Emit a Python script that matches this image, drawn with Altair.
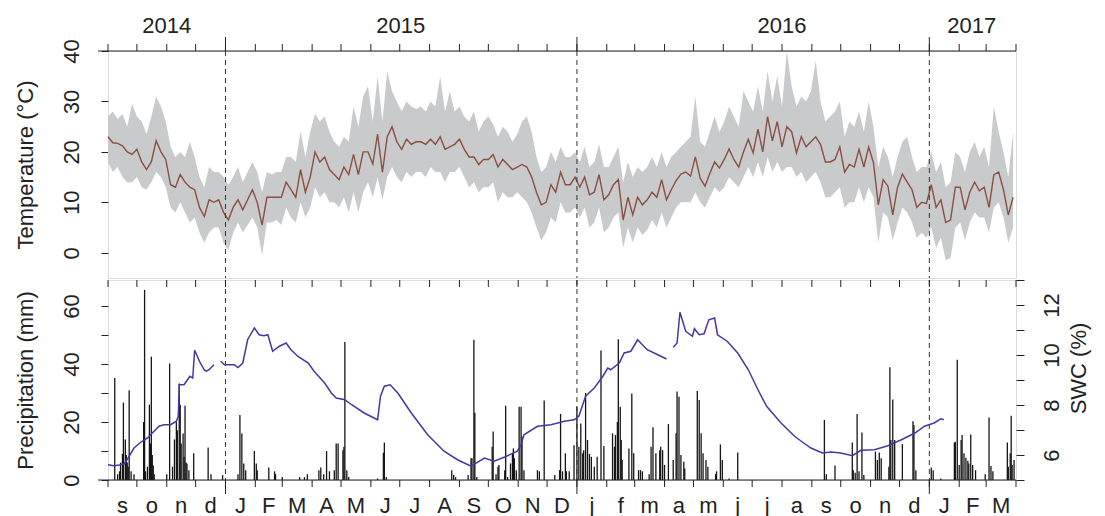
import altair as alt
import pandas as pd

START = "2014-09-01"
END = "2017-04-01"
STEP = 5  # temperature samples every 5 days from START

temp_mean = [
    23, 21.8, 21.7, 21.2, 20.0, 19.5, 20.5, 18, 16.5, 18,
    22.2, 20, 18.5, 13.5, 13, 15.5, 14, 13, 12.5, 9,
    7.2, 10.5, 10, 10.5, 8, 6.5, 9, 10.5, 8.5, 10.5,
    12.5, 10, 5.5, 11, 11, 11, 11, 14, 12.5, 11,
    16.5, 12, 15, 20, 18, 19, 16.5, 15.5, 14.5, 17,
    15.5, 19.5, 15.5, 20, 20, 17.6, 23.5, 16, 23, 25,
    22, 20.5, 22.5, 21.5, 22, 22, 21.5, 22.5, 21.5, 23,
    20.5, 21, 21.5, 22.5, 20.5, 19, 19, 17.5, 18.5, 18.5,
    19.5, 17, 18.5, 17.5, 16.5, 17, 17.5, 17, 15, 12,
    9.5, 10, 13.5, 12, 16, 13.5, 13.5, 15, 13, 15,
    11.5, 12, 15.5, 10.5, 11.5, 13.5, 14.5, 6.5, 11, 7.5,
    11, 9.5, 10.5, 12, 11, 14.5, 10.5, 12.5, 14.3, 15.6,
    16, 15.2, 19, 14.8, 13.2, 15.7, 18, 16.8, 18.5, 20.6,
    18.5, 17, 20, 22.5, 19.8, 24.5, 20, 27, 22.2, 26,
    21, 25, 24, 19.8, 23, 21, 22, 23, 21.5, 18,
    18, 18.5, 21, 16, 17.5, 17, 20.5, 17, 21, 17.8,
    9.5, 14.5, 13.2, 7.5, 13, 15.6, 14, 12.5, 9, 10,
    9.8, 13.5, 9, 10.5, 6, 6.5, 13, 13, 8.5, 12,
    14, 12.3, 13, 9, 15.5, 16, 12.5, 7.5, 11,
]
temp_max = [
    27, 28, 26.5, 27.5, 25, 29.5, 27, 26, 23.5, 27,
    31, 29, 26, 21, 19, 20, 19, 22, 19, 15,
    13, 17, 16, 16, 15, 13.5, 15, 17, 14, 16,
    18, 16, 12, 16, 15.5, 16, 16, 19, 19, 18,
    24, 19, 24, 27.5, 26, 27, 24, 22, 21, 23,
    22, 29, 25, 31, 33, 26, 35, 26, 36, 32,
    30, 28, 30, 29, 28.5, 29, 28, 30, 29, 35,
    28, 32, 28, 29, 27, 26, 28, 24, 26, 27,
    25.5, 23, 25, 24, 22, 23.5, 26, 27, 24, 19,
    16, 17, 20, 18, 21, 19, 19, 20, 18, 21,
    17, 18, 21.5, 17, 17, 19, 21, 14, 18, 15,
    17, 16, 17, 19, 17, 20, 17, 19, 20, 21,
    22, 23, 31, 22, 21, 24, 27, 24, 26, 29,
    27, 25, 32, 30, 28, 33, 28, 36, 30, 35,
    29, 40, 33, 29, 31, 30, 32, 38, 30, 26,
    27, 28, 30, 23, 26, 25, 28, 24, 30, 25,
    17, 21, 19, 15, 19, 22, 23, 19, 16, 17,
    17, 20, 16, 18, 13, 14, 20, 19, 16, 20,
    22, 19, 21, 17, 29, 24, 20, 15, 24,
]
temp_min = [
    18, 16, 17, 15, 14, 14, 15, 13, 12.5, 14,
    16, 15, 13, 9, 8, 10, 8, 6, 7, 4,
    2, 4, 5, 5, 2, 0.5, 4, 6, 4, 5.5,
    7, 5, -0.5, 6, 6, 6.5, 5.5, 9, 7, 6,
    10, 7, 9, 13, 11, 12, 10, 10, 9, 11,
    8, 12, 8, 12, 14, 11, 15, 10.5, 15, 17,
    15, 14, 16, 15, 16, 16, 15, 17, 16, 16,
    14, 16, 16, 17, 15, 13, 14, 12, 13, 13,
    14, 10, 12, 11, 11, 12, 11, 10, 8, 5,
    2.5, 4, 7, 6, 10, 8, 8, 9, 7, 9,
    5, 6, 9, 4, 5, 7, 8, 1, 5, 2,
    5, 3.5, 4.5, 6.5, 5, 8, 5, 7, 9, 10,
    10, 10, 12, 10, 9, 11, 13, 12, 13, 15,
    14, 13, 15, 17, 15, 18, 15, 19, 16, 18,
    16, 17, 17, 15, 16, 14, 15, 16, 14, 11,
    11, 12, 13, 9, 10, 10, 13, 10, 13, 11,
    2, 8, 7, 2.5, 6, 9, 8, 6, 3, 4,
    3, 5, 1, 3, -1.5, -1, 5, 6, 2.5, 6,
    8, 7, 7, 4, 9, 10, 7, 2, 5,
]

# soil water content: day offset from START, value (%), segment id (gaps between segments)
swc_day = [0, 6, 12, 17, 22, 27, 33, 38, 41, 46, 53, 58, 65, 71, 73, 74, 79, 85, 88, 90, 95, 100, 102, 105, 110,
           117, 121, 131, 135, 140, 145, 152, 157, 162, 166, 171, 178, 185, 190, 197, 208, 214, 225, 232, 237, 246,
           253, 266, 280, 283, 287, 293, 301, 315, 332, 349, 363, 377, 391, 401, 412, 425, 429, 432, 446, 460, 474,
           484, 489, 496, 505, 514, 519, 522, 531, 536, 543, 550, 560, 571, 580,
           587, 591, 594, 600, 607, 609, 614, 619, 624, 630, 633, 643, 654, 665, 675, 684, 699, 713, 720, 730, 742,
           751, 761, 773, 782, 796, 810, 824, 838, 848, 858, 865, 868]
swc_val = [5.61, 5.57, 5.6, 5.65, 5.95, 6.28, 6.48, 6.61, 6.68, 6.88, 7.15, 7.21, 7.21, 7.35, 7.55, 8.81, 8.81, 9.15, 9.08, 10.19, 9.75, 9.4, 9.35, 9.41, 9.61,
           9.75, 9.61, 9.61, 9.5, 9.68, 10.61, 11.08, 10.81, 10.77, 10.81, 10.15, 10.35, 10.48, 10.21, 9.95, 9.68, 9.35, 8.88, 8.48, 8.28, 8.21,
           8.01, 7.68, 7.41, 8.35, 8.75, 8.81, 8.48, 7.68, 6.81, 6.15, 5.81, 5.55, 5.88, 5.75, 5.92, 6.15, 6.41, 6.81, 7.15, 7.21, 7.35,
           7.41, 7.55, 8.35, 8.68, 9.15, 9.48, 9.41, 9.68, 10.08, 10.15, 10.61, 10.21, 10.01, 9.84,
           10.31, 10.48, 11.71, 10.95, 10.75, 11.05, 10.81, 10.85, 11.41, 11.48, 10.81, 10.55, 10.08, 9.41, 8.61, 7.95, 7.28, 6.75, 6.55, 6.28, 6.08,
           6.12, 6.08, 5.97, 6.19, 6.21, 6.37, 6.61, 6.88, 7.15, 7.28, 7.45, 7.41]
swc_seg = [1] * 25 + [2] * 56 + [3] * 33

precip_day = [7, 10, 12, 13, 15, 16, 18, 19, 20, 21, 22, 24, 27, 37, 38, 39, 41, 43, 44, 45, 46, 47, 48, 61, 64, 67, 69,
              71, 72, 74, 75, 76, 78, 79, 80, 81, 82, 84, 89, 104, 107, 119, 135, 137, 139, 141, 143, 152, 154, 155, 167,
              173, 174, 181, 199, 204, 207, 219, 221, 224, 227, 230, 235, 237, 239, 244, 245, 246, 248, 250, 280, 286, 287,
              289, 357, 359, 361, 374, 377, 378, 380, 381, 383, 399, 400, 403, 405, 406, 412, 413, 415, 418, 420, 421, 422,
              424, 427, 429, 430, 432, 446, 448, 453, 464, 469, 470, 472, 475, 476, 479, 484, 487, 489, 491, 493, 494, 496,
              498, 500, 502, 505, 508, 512, 515, 524, 526, 527, 529, 530, 532, 533, 534, 541, 544, 546, 551, 553, 555, 562,
              564, 566, 569, 573, 574, 576, 578, 582, 587, 590, 591, 593, 595, 598, 599, 612, 614, 616, 618, 621, 623, 631,
              632, 636, 638, 645, 654, 744, 746, 755, 773, 774, 776, 778, 780, 783, 785, 797, 799, 801, 803, 811, 812, 813,
              815, 817, 825, 836, 837, 839, 855, 857, 865, 879, 880, 882, 884, 886, 887, 889, 891, 893, 894, 896, 898, 901,
              911, 915, 917, 919, 934, 935, 937, 938, 939, 941]
precip_mm = [35.2, 2, 3, 6, 9, 26.7, 14, 8.6, 6, 4.6, 31, 3, 2, 20, 65.6, 3, 4.6, 26, 12.6, 42.5, 8.6, 5, 2, 2, 40.2, 4.6, 14,
             20, 17.2, 33.3, 26, 12.6, 16, 8, 25.6, 6, 5.7, 3.4, 9.2, 11.2, 2, 1.7, 2, 22.4, 16, 5.7, 3.4, 10, 5.7, 3.4, 4.3,
             3, 2, 1, 1, 1, 2, 3.4, 4.3, 2, 10, 3, 3.4, 12.6, 12.6, 10.3, 11.5, 47.6, 3.4, 1, 0.5, 9.4, 12.9,
             1, 3.4, 1.7, 1, 1.7, 7.5, 7.5, 48.4, 23.2, 1, 11.5, 16.7, 2, 4.6, 5.2, 3.4, 25.6, 1, 5.7, 9.2, 10.9, 7.5,
             3.4, 25.3, 25.3, 15, 3.4, 3.4, 3, 27.4, 1.7, 3.4, 22.8, 3, 9.2, 3, 3, 12, 25.3, 11.5, 19.5, 9.2, 10.3, 30,
             13.8, 9, 8, 4.6, 8, 44.7, 11.7, 16.1, 11.5, 15.5, 20, 48.6, 25.3, 13.8, 6.9, 10.9, 29.8, 9.2, 3.4, 3.4, 3, 2,
             11.5, 18.2, 9.2, 10.3, 11.5, 10.3, 5.2, 19.3, 6.9, 16.1, 30.5, 28.7, 8.6, 6.3, 4, 30.7, 27.6, 16.1, 9.2, 6.9, 4.6, 2,
             3, 12.3, 6.9, 0.5, 9.5, 20.7, 2, 5, 12.9, 3.4, 2.5, 22.8, 3, 16.4, 1.7, 9.8, 6.9, 9.5, 7.5, 4.6, 38.9, 13.8,
             27.8, 13.8, 12.4, 20.3, 19, 3.4, 4.3, 3.4, 0.5, 12.9, 13.2, 41.5, 5.2, 13.8, 15.5, 9.2, 7.7, 6.6, 5.7, 15.7, 5.2, 3.4,
             2, 21.6, 4.8, 3, 12.9, 4.6, 9.2, 22.2, 5.2, 6.9]

month_labels = ["s", "o", "n", "d",
                "J", "F", "M", "A", "M", "J", "J", "A", "S", "O", "N", "D",
                "j", "f", "m", "a", "m", "j", "j", "a", "s", "o", "n", "d",
                "J", "F", "M"]
year_labels = ["2014", "2015", "2016", "2017"]
year_label_dates = ["2014-11-01", "2015-07-02", "2016-08-01", "2017-02-14"]
year_bounds = ["2015-01-01", "2016-01-01", "2017-01-01"]

# ---------------------------------------------------------------- helpers
t0 = pd.Timestamp(START)
span = (pd.Timestamp(END) - t0).days


def off(d):
    return (pd.Timestamp(d) - t0).days


assert len(temp_mean) == len(temp_max) == len(temp_min)
assert len(swc_day) == len(swc_val) == len(swc_seg)
assert len(precip_day) == len(precip_mm)

temp_df = pd.DataFrame({"day": [i * STEP for i in range(len(temp_mean))],
                        "mean": temp_mean, "tmin": temp_min, "tmax": temp_max})
swc_df = pd.DataFrame({"day": swc_day, "swc": swc_val, "seg": swc_seg})
pr_df = pd.DataFrame({"day": precip_day, "mm": precip_mm})

mstarts = pd.date_range(START, END, freq="MS")
mdays = [(m - t0).days for m in mstarts]
mtick_df = pd.DataFrame({"day": mdays})
mlab_df = pd.DataFrame({"day": [(a + b) / 2 for a, b in zip(mdays[:-1], mdays[1:])],
                        "lab": month_labels})
ybound_df = pd.DataFrame({"day": [off(d) for d in year_bounds]})
ylab_df = pd.DataFrame({"day": [off(d) for d in year_label_dates], "lab": year_labels})
one = pd.DataFrame({"a": [0]})

W, H1, H2 = 908, 227, 200
FONT = "Liberation Sans"
FS = 22
INK = "#222222"
GREY = "#c9cacc"
BROWN = "#8a4f40"
PURPLE = "#4b35a3"

xs = alt.Scale(domain=[0, span], nice=False, zero=False)
X = alt.X("day:Q", scale=xs, axis=None)

# ---------------------------------------------------------------- top panel
t_axis = alt.Axis(values=list(range(0, 41, 5)),
                  labelExpr="datum.value % 10 == 0 ? datum.label : ''",
                  tickSize=7, labelAngle=270, labelAlign="center", labelBaseline="alphabetic",
                  labelPadding=23, labelFontSize=FS, labelFont=FONT, labelColor=INK, tickColor=INK,
                  domain=False, grid=False, labelOverlap=False,
                  title="Temperature (°C)", titleFontSize=FS, titleFont=FONT, titleFontWeight="normal",
                  titleColor=INK, titleAngle=270, titleX=-83, titleY=H1 / 2,
                  titleAlign="center", titleBaseline="middle")
ys_t = alt.Scale(domain=[-5, 40], nice=False, zero=False)

band = alt.Chart(temp_df).mark_area(color=GREY).encode(
    x=X, y=alt.Y("tmin:Q", scale=ys_t, axis=t_axis), y2="tmax:Q")
tline = alt.Chart(temp_df).mark_line(color=BROWN, strokeWidth=1.4).encode(
    x=X, y=alt.Y("mean:Q", scale=ys_t))
tdash = alt.Chart(ybound_df).mark_rule(color="#333333", strokeDash=[5, 4], strokeWidth=1).encode(
    x=X, y=alt.value(0), y2=alt.value(H1))
ttick = alt.Chart(mtick_df).mark_rule(color=INK, strokeWidth=1).encode(
    x=X, y=alt.value(-7), y2=alt.value(0))
tytick = alt.Chart(ybound_df).mark_rule(color=INK, strokeWidth=1).encode(
    x=X, y=alt.value(-14), y2=alt.value(0))
tline_ext = alt.Chart(one).mark_rule(color=INK, strokeWidth=1).encode(
    x=alt.value(-10), x2=alt.value(W), y=alt.value(0))
ytext = alt.Chart(ylab_df).mark_text(font=FONT, fontSize=FS, color=INK, baseline="alphabetic",
                                     align="center").encode(x=X, y=alt.value(-18), text="lab:N")

top = alt.layer(band, tline, tdash, ttick, tytick, tline_ext, ytext).properties(width=W, height=H1)

# ---------------------------------------------------------------- bottom panel
p_axis = alt.Axis(values=list(range(0, 61, 10)),
                  labelExpr="datum.value % 20 == 0 ? datum.label : ''",
                  tickSize=7, labelAngle=270, labelAlign="center", labelBaseline="alphabetic",
                  labelPadding=23, labelFontSize=FS, labelFont=FONT, labelColor=INK, tickColor=INK,
                  domain=False, grid=False, labelOverlap=False,
                  title="Precipitation (mm)", titleFontSize=FS, titleFont=FONT, titleFontWeight="normal",
                  titleColor=INK, titleAngle=270, titleX=-83, titleY=H2 / 2,
                  titleAlign="center", titleBaseline="middle")
s_axis = alt.Axis(orient="right", values=list(range(5, 14)),
                  labelExpr="datum.value % 2 == 0 ? datum.label : ''",
                  tickSize=8, labelAngle=270, labelAlign="center", labelBaseline="top",
                  labelPadding=17, labelFontSize=FS, labelFont=FONT, labelColor=INK, tickColor=INK,
                  domain=False, grid=False, labelOverlap=False,
                  title="SWC (%)", titleFontSize=FS, titleFont=FONT, titleFontWeight="normal",
                  titleColor=INK, titleAngle=270, titleX=62, titleY=88,
                  titleAlign="center", titleBaseline="middle")
ys_p = alt.Scale(domain=[0, 69], nice=False, zero=False)
ys_s = alt.Scale(domain=[5, 13], nice=False, zero=False)

bars = alt.Chart(pr_df).mark_rule(color="#151515", strokeWidth=1.3).encode(
    x=X, y=alt.Y("mm:Q", scale=ys_p, axis=p_axis), y2=alt.datum(0))
swc = alt.Chart(swc_df).mark_line(color=PURPLE, strokeWidth=1.5).encode(
    x=X, y=alt.Y("swc:Q", scale=ys_s, axis=s_axis), detail="seg:N")
bdash = alt.Chart(ybound_df).mark_rule(color="#333333", strokeDash=[5, 4], strokeWidth=1).encode(
    x=X, y=alt.value(0), y2=alt.value(H2))
btick_in = alt.Chart(mtick_df).mark_rule(color=INK, strokeWidth=1).encode(
    x=X, y=alt.value(0), y2=alt.value(7))
btick = alt.Chart(mtick_df).mark_rule(color=INK, strokeWidth=1).encode(
    x=X, y=alt.value(H2), y2=alt.value(H2 + 7))
bytick = alt.Chart(ybound_df).mark_rule(color=INK, strokeWidth=1).encode(
    x=X, y=alt.value(H2), y2=alt.value(H2 + 14))
bline_ext = alt.Chart(one).mark_rule(color=INK, strokeWidth=1).encode(
    x=alt.value(-10), x2=alt.value(W), y=alt.value(H2))
mtext = alt.Chart(mlab_df).mark_text(font=FONT, fontSize=FS, color=INK, baseline="alphabetic",
                                     align="center").encode(x=X, y=alt.value(H2 + 33), text="lab:N")

bottom_left = alt.layer(bars, bdash, btick_in, btick, bytick, bline_ext, mtext)
bottom = alt.layer(bottom_left, swc).resolve_scale(y="independent").properties(width=W, height=H2)

chart = alt.vconcat(top, bottom, spacing=0).properties(
    padding={"left": 5, "top": 6, "right": 5, "bottom": 0}
).configure_view(stroke=INK, strokeWidth=1).configure(font=FONT)

chart.save("out.html", embed_options={"renderer": "svg", "actions": False})
